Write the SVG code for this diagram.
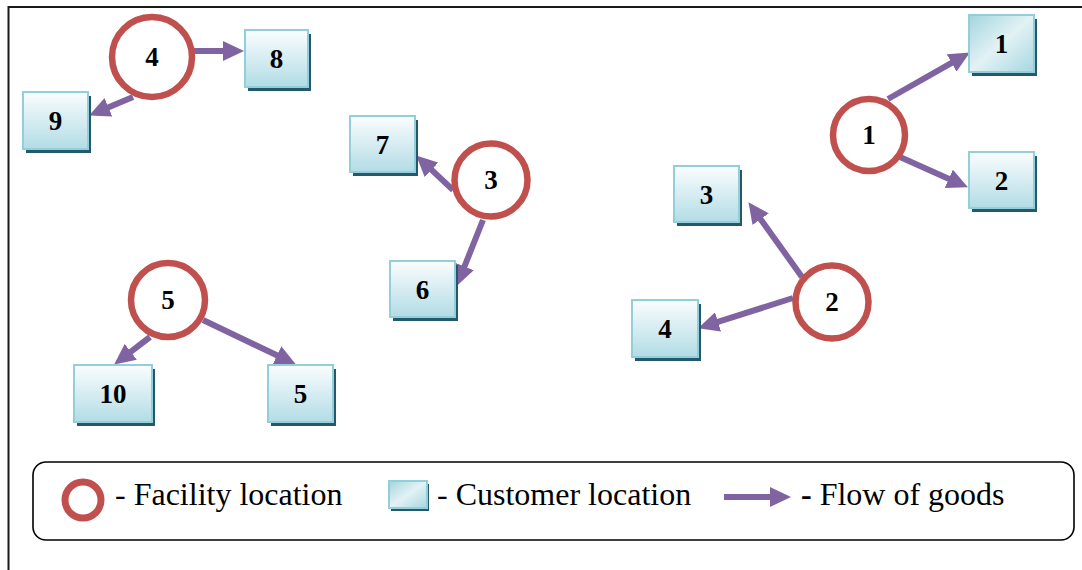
<svg xmlns="http://www.w3.org/2000/svg" width="1082" height="570" viewBox="0 0 1082 570">
  <defs>
    <linearGradient id="boxFill" x1="0" y1="0" x2="0" y2="1">
      <stop offset="0" stop-color="#fbfdfe"/>
      <stop offset="1" stop-color="#b2dce5"/>
    </linearGradient>
    <linearGradient id="boxFillDiag" x1="0" y1="0" x2="1" y2="1">
      <stop offset="0" stop-color="#a3d5de"/>
      <stop offset="0.5" stop-color="#e2f2f5"/>
      <stop offset="1" stop-color="#a6d7e0"/>
    </linearGradient>
    <marker id="head" markerUnits="userSpaceOnUse" markerWidth="21" markerHeight="20" viewBox="0 0 21 20" refX="1" refY="10" orient="auto">
      <path d="M0,0 L21,10 L0,20 Z" fill="#8064a2"/>
    </marker>
  </defs>

  <!-- outer frame (top and left edges) -->
  <path d="M8.5,570 L8.5,7 L1082,7" fill="none" stroke="#1a1a1a" stroke-width="2"/>

  <!-- flows of goods -->
  <g id="connectors" fill="none" stroke="#8064a2" stroke-width="6" marker-end="url(#head)">
    <line x1="888" y1="99" x2="952.5" y2="62.4"/>
    <line x1="900" y1="157" x2="949.7" y2="179.2"/>
    <line x1="194" y1="51" x2="224" y2="51"/>
    <line x1="133" y1="97" x2="107.5" y2="107.7"/>
    <line x1="453" y1="190" x2="430.8" y2="169.1"/>
    <line x1="483" y1="220" x2="464.1" y2="267.4"/>
    <line x1="802" y1="277" x2="760.1" y2="218.4"/>
    <line x1="793" y1="298" x2="717.1" y2="322.2"/>
    <line x1="150" y1="337" x2="130" y2="352.4"/>
    <line x1="203" y1="320" x2="277.9" y2="355.8"/>
  </g>

  <!-- facilities -->
  <g id="facilities" fill="#ffffff" stroke="#c0504d" stroke-width="6.5">
    <circle id="facility-1" cx="869" cy="135" r="36"/>
    <circle id="facility-2" cx="832" cy="302" r="36.5"/>
    <circle id="facility-3" cx="491" cy="180" r="36.5"/>
    <circle id="facility-4" cx="152" cy="57" r="40"/>
    <circle id="facility-5" cx="168" cy="300" r="37"/>
  </g>

  <!-- customers: shadow then gradient box -->
  <g id="customer-shadows" fill="#23596a">
    <rect x="972" y="19" width="65" height="57"/>
    <rect x="972" y="156" width="65" height="56"/>
    <rect x="677" y="170" width="65" height="56"/>
    <rect x="635" y="304" width="66" height="57"/>
    <rect x="271" y="369" width="65" height="57"/>
    <rect x="393" y="265" width="65" height="56"/>
    <rect x="353" y="120" width="65" height="56"/>
    <rect x="248" y="34" width="63" height="57"/>
    <rect x="26" y="96" width="65" height="57"/>
    <rect x="77" y="369" width="78" height="57"/>
  </g>
  <g id="customers" fill="url(#boxFill)" stroke="#92cfdb" stroke-width="2">
    <rect id="customer-1" x="969" y="15" width="65" height="57" fill="url(#boxFillDiag)"/>
    <rect id="customer-2" x="969" y="152" width="65" height="56"/>
    <rect id="customer-3" x="674" y="166" width="65" height="56"/>
    <rect id="customer-4" x="632" y="300" width="66" height="57"/>
    <rect id="customer-5" x="268" y="365" width="65" height="57"/>
    <rect id="customer-6" x="390" y="261" width="65" height="56"/>
    <rect id="customer-7" x="350" y="116" width="65" height="56"/>
    <rect id="customer-8" x="245" y="30" width="63" height="57"/>
    <rect id="customer-9" x="23" y="92" width="65" height="57"/>
    <rect id="customer-10" x="74" y="365" width="78" height="57"/>
  </g>

  <!-- node labels -->
  <text x="869" y="144" text-anchor="middle" style="font-family: 'Liberation Serif', serif; font-size: 27px; font-weight: bold">1</text>
  <text x="832" y="311" text-anchor="middle" style="font-family: 'Liberation Serif', serif; font-size: 27px; font-weight: bold">2</text>
  <text x="491" y="189" text-anchor="middle" style="font-family: 'Liberation Serif', serif; font-size: 27px; font-weight: bold">3</text>
  <text x="152" y="66" text-anchor="middle" style="font-family: 'Liberation Serif', serif; font-size: 27px; font-weight: bold">4</text>
  <text x="168" y="309" text-anchor="middle" style="font-family: 'Liberation Serif', serif; font-size: 27px; font-weight: bold">5</text>
  <text x="1001.5" y="53" text-anchor="middle" style="font-family: 'Liberation Serif', serif; font-size: 27px; font-weight: bold">1</text>
  <text x="1001.5" y="189.5" text-anchor="middle" style="font-family: 'Liberation Serif', serif; font-size: 27px; font-weight: bold">2</text>
  <text x="706.5" y="203.5" text-anchor="middle" style="font-family: 'Liberation Serif', serif; font-size: 27px; font-weight: bold">3</text>
  <text x="665" y="338" text-anchor="middle" style="font-family: 'Liberation Serif', serif; font-size: 27px; font-weight: bold">4</text>
  <text x="300.5" y="403" text-anchor="middle" style="font-family: 'Liberation Serif', serif; font-size: 27px; font-weight: bold">5</text>
  <text x="422.5" y="298.5" text-anchor="middle" style="font-family: 'Liberation Serif', serif; font-size: 27px; font-weight: bold">6</text>
  <text x="382.5" y="153.5" text-anchor="middle" style="font-family: 'Liberation Serif', serif; font-size: 27px; font-weight: bold">7</text>
  <text x="276.5" y="68" text-anchor="middle" style="font-family: 'Liberation Serif', serif; font-size: 27px; font-weight: bold">8</text>
  <text x="55.5" y="130" text-anchor="middle" style="font-family: 'Liberation Serif', serif; font-size: 27px; font-weight: bold">9</text>
  <text x="113" y="403" text-anchor="middle" style="font-family: 'Liberation Serif', serif; font-size: 27px; font-weight: bold">10</text>

  <!-- legend -->
  <rect x="33" y="462" width="1041" height="78" rx="13" ry="13" fill="none" stroke="#000000" stroke-width="1.6"/>
  <circle cx="83" cy="500" r="18" fill="#ffffff" stroke="#c0504d" stroke-width="7"/>
  <text x="115" y="505" style="font-family: 'Liberation Serif', serif; font-size: 32px">- Facility location</text>
  <rect x="391" y="484" width="38" height="27" fill="#23596a"/>
  <rect x="389" y="481" width="38" height="27" fill="url(#boxFillDiag)" stroke="#92cfdb" stroke-width="2"/>
  <text x="437" y="505" style="font-family: 'Liberation Serif', serif; font-size: 32px">- Customer location</text>
  <line x1="724" y1="497" x2="771" y2="497" stroke="#8064a2" stroke-width="6" marker-end="url(#head)"/>
  <text x="801" y="505" style="font-family: 'Liberation Serif', serif; font-size: 32px"><tspan style="font-weight: bold">-</tspan> Flow of goods</text>
</svg>
